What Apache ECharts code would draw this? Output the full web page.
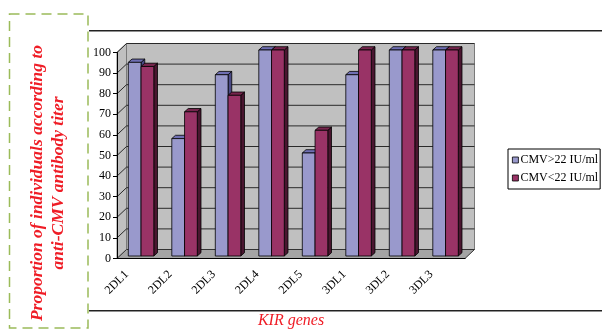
<!DOCTYPE html>
<html><head><meta charset="utf-8">
<script src="https://cdn.jsdelivr.net/npm/echarts@6/dist/echarts.min.js"></script>
<style>html,body{margin:0;padding:0;background:#fff}#c{width:602px;height:335px}</style>
</head><body><div id="c"></div>
<script>
const categories = ['2DL1','2DL2','2DL3','2DL4','2DL5','3DL1','3DL2','3DL3'];
const seriesNames = ['CMV>22 IU/ml','CMV<22 IU/ml'];
const cmvHigh = [94, 57, 88, 100, 50, 88, 100, 100];
const cmvLow  = [92, 70, 78, 100, 61, 100, 100, 100];
const yTickValues = [0,10,20,30,40,50,60,70,80,90,100];
const yTitleLines = ['Proportion of individuals according to','anti-CMV antibody titer'];
const xTitle = 'KIR genes';

const SERIF = '"Liberation Serif","DejaVu Serif",serif';
const RED = '#ef1d26';
const palettes = [
  {front:'#9999cc', top:'#6f6fb3', side:'#4b4b86'},
  {front:'#993366', top:'#76254d', side:'#4a1630'}
];

function barRenderer(s){
  return function(params, api){
    const i = api.value(0), v = api.value(1);
    const base = api.coord([i, 0]), top = api.coord([i, v]);
    const cw = api.size([1, 0])[0];
    const w = cw * 0.293;
    const ox = 2.3, oy = -2.5, ddx = 3.7, ddy = -3.3;
    const xl = base[0] - w + s * w + ox, xr = xl + w;
    const yt = top[1] + oy, yb = base[1] + oy;
    const c = palettes[s];
    const st = (f) => ({fill: f, stroke: '#000', lineWidth: 0.8});
    return {type:'group', children:[
      {type:'polygon', shape:{points:[[xr,yt],[xr+ddx,yt+ddy],[xr+ddx,yb+ddy],[xr,yb]]}, style:st(c.side)},
      {type:'polygon', shape:{points:[[xl,yt],[xr,yt],[xr+ddx,yt+ddy],[xl+ddx,yt+ddy]]}, style:st(c.top)},
      {type:'rect', shape:{x:xl, y:yt, width:w, height:yb-yt}, style:st(c.front)}
    ]};
  };
}

function wallRenderer(params, api){
  const cs = params.coordSys;
  const x0 = cs.x, x1 = cs.x + cs.width, yT = cs.y, yB = cs.y + cs.height;
  const dx = 9.5, dy = -9;
  const ch = [];
  ch.push({type:'rect', shape:{x:x0+dx, y:yT+dy, width:cs.width, height:cs.height}, style:{fill:'#c0c0c0', stroke:'#7a7a7a', lineWidth:1}});
  ch.push({type:'polygon', shape:{points:[[x0,yT],[x0+dx,yT+dy],[x0+dx,yB+dy],[x0,yB]]}, style:{fill:'#c0c0c0', stroke:'#7a7a7a', lineWidth:1}});
  ch.push({type:'polygon', shape:{points:[[x0,yB],[x1,yB],[x1+dx,yB+dy],[x0+dx,yB+dy]]}, style:{fill:'#a4a4a4', stroke:'#333', lineWidth:1}});
  yTickValues.forEach(function(v){
    if (v === 0) return;
    const y = api.coord([0, v])[1];
    ch.push({type:'polyline', shape:{points:[[x0,y],[x0+dx,y+dy],[x1+dx,y+dy]]}, style:{fill:null, stroke:'#2a2a2a', lineWidth:1}});
  });
  return {type:'group', children: ch};
}

const chart = echarts.init(document.getElementById('c'), null, {renderer:'canvas'});
chart.setOption({
  animation: false,
  backgroundColor: '#fff',
  grid: {left:117, right:137, top:52.5, bottom:76.5, containLabel:false},
  legend: {
    data: seriesNames.map(n => ({name:n, icon:'rect'})),
    orient: 'vertical', left: 508, top: 149,
    itemWidth: 6, itemHeight: 6, itemGap: 6,
    padding: [5, 2, 5, 4],
    borderColor: '#000', borderWidth: 1,
    textStyle: {fontFamily: SERIF, fontSize: 12, color:'#000', padding:[0,0,0,-3]},
    itemStyle: {borderColor:'#000', borderWidth:0.8}
  },
  xAxis: {
    type:'category', data: categories, boundaryGap: true, z: 5,
    axisLine: {lineStyle:{color:'#000', width:1}},
    axisTick: {length:4, lineStyle:{color:'#000'}},
    axisLabel: {rotate:45, fontFamily:SERIF, fontSize:12, color:'#000', margin:2, padding:[0,17,0,0]},
    splitLine: {show:false}
  },
  yAxis: {
    type:'value', min:0, max:100, interval:10, z: 5,
    axisLine: {show:true, lineStyle:{color:'#000', width:1}},
    axisTick: {show:true, length:4, lineStyle:{color:'#000'}},
    axisLabel: {fontFamily:SERIF, fontSize:12, color:'#000', margin:6},
    splitLine: {show:false}
  },
  series: [
    {type:'custom', name:'wall', silent:true, z:1, renderItem: wallRenderer, data:[[0,0]]},
    {type:'custom', name: seriesNames[0], z:2, renderItem: barRenderer(0), itemStyle:{color:palettes[0].front},
     data: cmvHigh.map((v,i)=>[i,v])},
    {type:'custom', name: seriesNames[1], z:3, renderItem: barRenderer(1), itemStyle:{color:palettes[1].front},
     data: cmvLow.map((v,i)=>[i,v])}
  ],
  graphic: [
    {type:'rect', shape:{x:9.5, y:14, width:78.5, height:314}, style:{fill:null, stroke:'#9bbb59', lineWidth:1.5, lineDash:[10,6]}},
    {type:'line', shape:{x1:89, y1:30.7, x2:602, y2:30.7}, style:{stroke:'#222', lineWidth:1.5}},
    {type:'line', shape:{x1:89, y1:310.7, x2:602, y2:310.7}, style:{stroke:'#222', lineWidth:1.5}},
    {type:'text', x:47.5, y:183, rotation:Math.PI/2,
     style:{text: yTitleLines.join('\n'), font:'italic bold 17.5px ' + SERIF, fill:RED, align:'center', verticalAlign:'middle', lineHeight:21}},
    {type:'text', x:291, y:321,
     style:{text: xTitle, font:'italic 16px ' + SERIF, fill:RED, align:'center', verticalAlign:'middle'}}
  ]
});
</script></body></html>
